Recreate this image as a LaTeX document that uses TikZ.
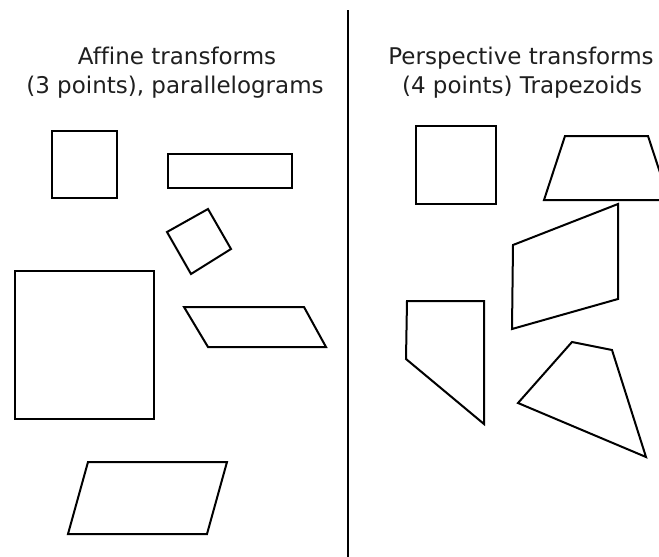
\documentclass[tikz,border=0pt]{standalone}
\usepackage{fontspec}
\setmainfont[Ligatures=NoCommon]{DejaVu Sans}
\begin{document}
\begin{tikzpicture}[x=1pt,y=-1pt,
  outline/.style={draw=black,line width=2pt,line join=miter},
  caption/.style={anchor=base,inner sep=0pt,font=\fontsize{23}{28}\selectfont,text=black!88}]
\useasboundingbox (0,0) rectangle (659,557);
\clip (0,0) rectangle (659,557);

% divider
\draw[line width=1.8pt] (348,10) -- (348,557);

% headings
\node[caption] (aff1) at (177,64) {Affine transforms};
\node[caption] (aff2) at (175,93) {(3 points), parallelograms};
\node[caption] (per1) at (521,64) {Perspective transforms};
\node[caption] (per2) at (522,93) {(4 points) Trapezoids};

% affine side
\draw[outline] (52,131) rectangle (117,198);
\draw[outline] (168,154) rectangle (292,188);
\draw[outline] (167,232) -- (208,209) -- (231,249) -- (191,274) -- cycle;
\draw[outline] (15,271) rectangle (154,419);
\draw[outline] (184,307) -- (304,307) -- (326,347) -- (208,347) -- cycle;
\draw[outline] (88,462) -- (227,462) -- (207,534) -- (68,534) -- cycle;

% perspective side
\draw[outline] (416,126) rectangle (496,204);
\draw[outline] (565,136) -- (648,136) -- (669,200) -- (544,200) -- cycle;
\draw[outline] (513,245) -- (618,204) -- (618,299) -- (512,329) -- cycle;
\draw[outline] (407,301) -- (484,301) -- (484,424) -- (406,359) -- cycle;
\draw[outline] (518,403) -- (572,342) -- (612,350) -- (646,457) -- cycle;
\end{tikzpicture}
\end{document}
